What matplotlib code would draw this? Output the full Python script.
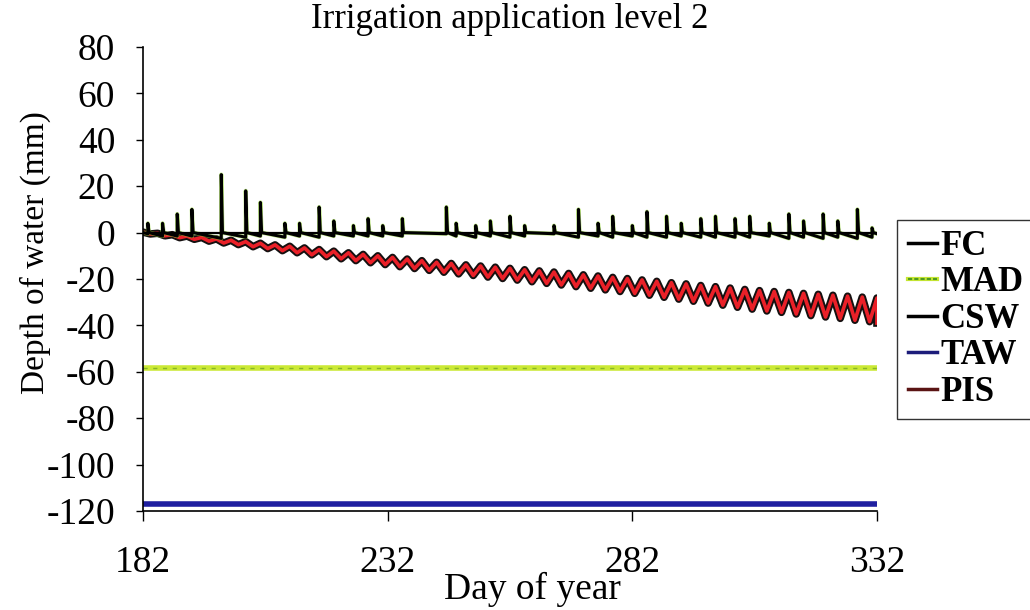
import numpy as np
import matplotlib
matplotlib.use("Agg")
import matplotlib.pyplot as plt
import matplotlib.patheffects as pe
from matplotlib.lines import Line2D

plt.rcParams['font.family'] = ['Liberation Serif', 'DejaVu Serif']
plt.rcParams['axes.unicode_minus'] = False

# reference levels (mm below field capacity)
fc_level = 0.0
mad_level = -58.5
taw_level = -117.0
day_start, day_end = 182, 332

# soil water content: irrigation days, peak after irrigation, depth just before it
irr_days = [183, 186, 189, 192, 198, 203, 206, 211, 214, 218,
            221, 225, 228, 231, 235, 244, 246, 250, 253, 257,
            260, 266, 271, 275, 278, 282, 285, 289, 292, 296,
            299, 303, 306, 310, 314, 317, 321, 324, 328, 331]
irr_peak = [4, 4, 8, 10, 25, 18, 13, 4, 4, 11,
            5, 3, 6, 3, 6, 11, 4, 3, 5, 7,
            3, 3, 10, 4, 7, 3, 9, 7, 4, 6,
            7, 6, 7, 4, 8, 5, 8, 5, 10, 2]
irr_dip = [-0.5, -1.5, -1.5, -1.5, -2.5, -2, -1.5, -2, -1.5, -2,
           -1.5, -1.5, -1.5, -1.5, -1.5, -0.5, -1.5, -2, -1.5, -2,
           -1.5, -0.5, -2, -1.5, -2, -1.5, -2, -2, -1.5, -2,
           -2, -2, -2, -1.5, -2.5, -2, -2.5, -2, -2.5, -2]

# PIS zig-zag: highs and lows
pis_high = [0.2, -0.3, -0.9, -1.5, -2.1, -2.7, -3.3, -3.9, -4.6, -5.3,
            -5.9, -6.6, -7.3, -8.0, -8.7, -9.4, -10.0, -10.7, -11.4, -12.1,
            -12.8, -13.3, -13.9, -14.4, -14.9, -15.4, -16.0, -16.5, -17.0, -17.6,
            -18.2, -18.7, -19.3, -19.8, -20.4, -21.0, -21.6, -22.1, -22.8, -23.3,
            -23.9, -24.5, -25.0, -25.4, -25.8, -26.2, -26.6, -27.0, -27.4, -27.8,
            -28.2]
pis_low = [-0.6, -1.4, -2.2, -2.9, -3.7, -4.5, -5.2, -6.1, -6.9, -7.8,
           -8.7, -9.6, -10.4, -11.3, -12.1, -13.0, -13.8, -14.7, -15.5, -16.3,
           -17.1, -17.8, -18.5, -19.2, -19.8, -20.5, -21.2, -21.9, -22.6, -23.3,
           -24.0, -24.7, -25.4, -26.2, -27.0, -27.9, -28.7, -29.6, -30.4, -31.3,
           -32.2, -33.0, -33.8, -34.4, -35.1, -35.8, -36.4, -37.0, -37.8, -38.4]
pis_last = -39.0

x_ticks = [182, 232, 282, 332]
y_ticks = [80, 60, 40, 20, 0, -20, -40, -60, -80, -100, -120]

# build CSW polyline
csw_x, csw_y = [day_start], [0.0]
for d, p, dip in zip(irr_days, irr_peak, irr_dip):
    csw_x += [d, d, d + 0.25]
    csw_y += [dip, p, 0.0]
csw_x.append(day_end)
csw_y.append(-0.5)

# build PIS polyline
high_days = np.arange(day_start, day_end + 1, 3)
low_days = high_days[:-1] + 1.5
pis_x, pis_y = [], []
for i in range(len(pis_low)):
    pis_x += [high_days[i], low_days[i]]
    pis_y += [pis_high[i], pis_low[i]]
pis_x += [high_days[-1], high_days[-1]]
pis_y += [pis_high[-1], pis_last]

fig = plt.figure(figsize=(10.3, 6.1), dpi=100)
ax = fig.add_axes([0.1388, 0.1623, 0.7126, 0.7607])

ax.plot([day_start, day_end], [taw_level, taw_level], color='#1f1fa0', lw=4, solid_capstyle='butt')
ax.plot([day_start, day_end], [mad_level, mad_level], color='#cbe935', lw=4, solid_capstyle='butt')
ax.plot([day_start, day_end], [mad_level, mad_level], color='#86b52a', lw=1, ls=(0, (3, 4)))

ax.plot(pis_x, pis_y, color='#ea2028', lw=2.6,
        path_effects=[pe.Stroke(linewidth=5.4, foreground='#151010'), pe.Normal()])

ax.plot(csw_x, csw_y, color='#9bdc3c', lw=3, alpha=0.6)
ax.plot([day_start, day_end], [fc_level, fc_level], color='black', lw=1.6)
ax.plot(csw_x, csw_y, color='black', lw=2.2)

ax.set_xlim(day_start, day_end)
ax.set_ylim(-120, 80)
ax.set_xticks(x_ticks)
ax.set_yticks(y_ticks)
ax.tick_params(axis='y', direction='out', length=5, width=1, pad=15, labelsize=27)
ax.tick_params(axis='x', direction='out', length=7, width=1, pad=18, labelsize=27)
for s in ['top', 'right']:
    ax.spines[s].set_visible(False)
for s in ['left', 'bottom']:
    ax.spines[s].set_linewidth(1.2)

ax.set_title('Irrigation application level 2', fontsize=25, pad=14)
ax.set_xlabel('Day of year', fontsize=27)
ax.set_ylabel('Depth of water (mm)', fontsize=24)
ax.xaxis.set_label_coords(0.531, -0.168)
ax.yaxis.set_label_coords(-0.147, 0.558)
ax.xaxis.label.set_verticalalignment('center')
ax.yaxis.label.set_verticalalignment('center')

handles = [
    Line2D([], [], color='black', lw=2.5),
    (Line2D([], [], color='#c6e632', lw=3), Line2D([], [], color='#4f9a20', lw=1.5, ls=(0, (2, 1)))),
    Line2D([], [], color='black', lw=2.5),
    Line2D([], [], color='#1c1c7a', lw=2.5),
    Line2D([], [], color='#5a1414', lw=2.5),
]
labels = ['FC', 'MAD', 'CSW', 'TAW', 'PIS']
leg = fig.legend(handles, labels, loc='upper left', bbox_to_anchor=(0.871, 0.64),
                 fontsize=25, frameon=True, fancybox=False, edgecolor='black',
                 handlelength=0.85, handletextpad=0.1, labelspacing=0.1,
                 borderpad=0.3, borderaxespad=0)
leg.get_frame().set_linewidth(1)
for t in leg.get_texts():
    t.set_fontweight('bold')

fig.savefig('out.png', dpi=100)
